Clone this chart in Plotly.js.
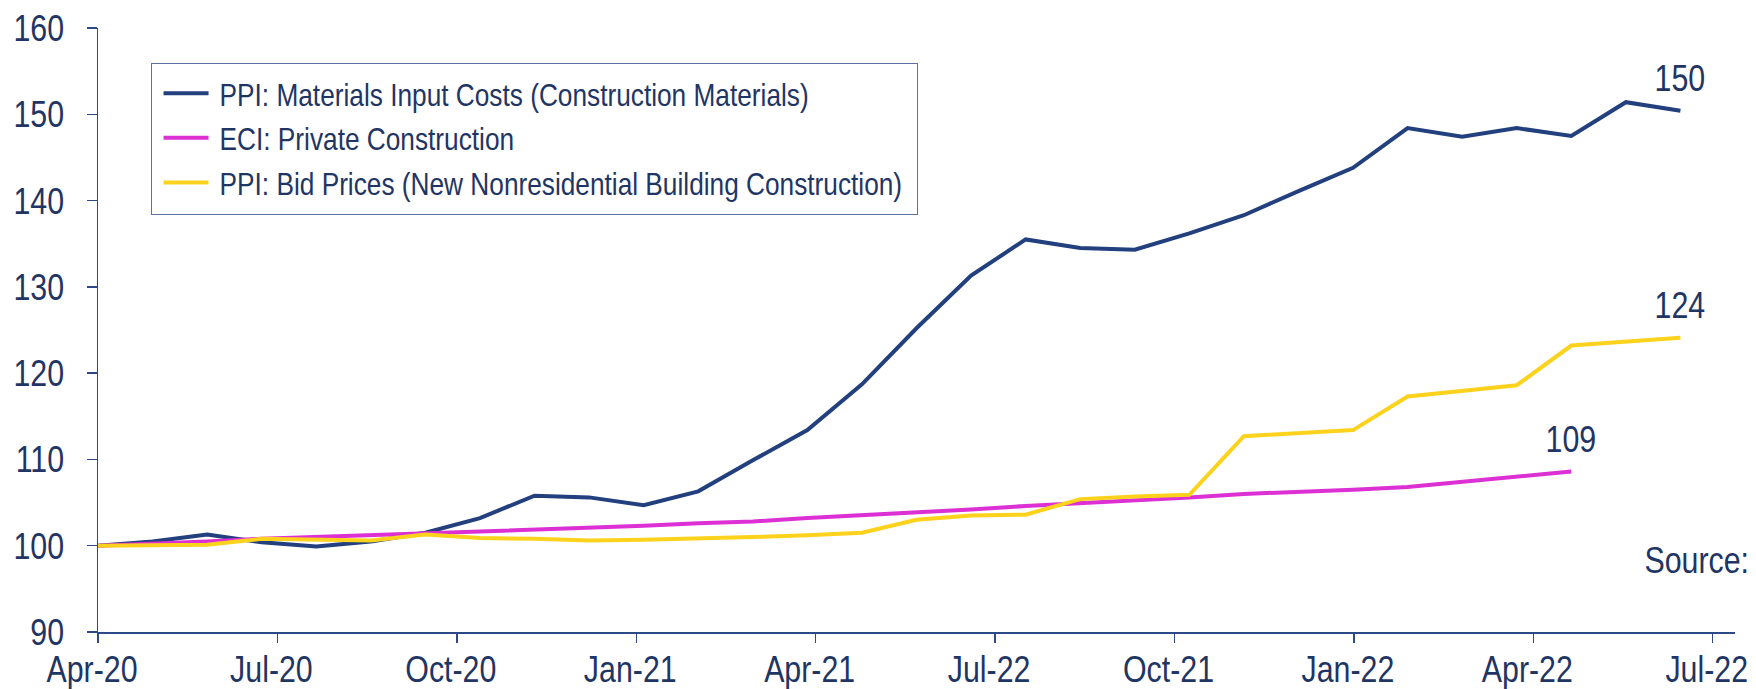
<!DOCTYPE html>
<html>
<head>
<meta charset="utf-8">
<script src="https://cdn.plot.ly/plotly-3.0.1.min.js"></script>
<style>html,body{margin:0;padding:0;background:#fff;}#chart{width:1756px;height:689px;}</style>
</head>
<body>
<div id="chart"></div>
<script>
// Period index of each observation (0 = Apr-20)
const periods = Array.from({length: 30}, (_, i) => i);

// Tick labels exactly as printed on the original axis
const tickLabels = ["Apr-20","Jul-20","Oct-20","Jan-21","Apr-21","Jul-22","Oct-21","Jan-22","Apr-22","Jul-22"];
const tickStep = 3.288; // observations per labelled quarter on the original axis

const seriesNames = [
  "PPI: Materials Input Costs (Construction Materials)",
  "ECI: Private Construction",
  "PPI: Bid Prices (New Nonresidential Building Construction)"
];

const materialsInput = [100.0, 100.5, 101.3, 100.4, 99.9, 100.5, 101.5, 103.2, 105.8, 105.6,
  104.7, 106.3, 109.9, 113.4, 118.7, 125.2, 131.3, 135.5, 134.5, 134.3,
  136.2, 138.3, 141.1, 143.8, 148.4, 147.4, 148.4, 147.5, 151.4, 150.4];

const eciPrivate = [100.0, 100.2, 100.5, 100.8, 101.0, 101.2, 101.4, 101.6, 101.8, 102.0,
  102.3, 102.6, 102.8, 103.2, 103.5, 103.8, 104.2, 104.6, 104.9, 105.2,
  105.6, 106.0, 106.2, 106.5, 106.8, 107.4, 108.0, 108.6];

const bidPrices = [100.0, 100.1, 100.1, 100.8, 100.7, 100.6, 101.3, 100.9, 100.8, 100.6,
  100.7, 100.8, 101.0, 101.2, 101.5, 103.0, 103.5, 103.6, 105.4, 105.7,
  105.9, 112.7, 113.0, 113.4, 117.3, 117.9, 118.6, 123.2, 123.6, 124.1];

const endLabels = ["150", "109", "124"];

const colors = ["#223f7e", "#dc2fd4", "#fdd21c"];
const textColor = "#1f3564";
const axisColor = "#2c4a88";
const fontFamily = '"Liberation Sans", Arial, sans-serif';
const NARROW = 0.82; // Arial Narrow is a horizontally condensed Arial
const TICK_SIZE = 37;
const LEGEND_SIZE = 32;

const seriesData = [materialsInput, eciPrivate, bidPrices];

const traces = seriesData.map((vals, k) => ({
  type: "scatter",
  mode: "lines",
  x: periods.slice(0, vals.length),
  y: vals,
  name: seriesNames[k],
  legendgroup: "g" + k,
  line: {color: colors[k], width: 4},
  hoverinfo: "skip"
}));

const annotations = seriesData.map((vals, k) => ({
  x: vals.length - 1,
  y: vals[vals.length - 1],
  xref: "x", yref: "y",
  text: endLabels[k],
  showarrow: false,
  xanchor: "center",
  yanchor: "middle",
  yshift: 32,
  font: {family: fontFamily, size: TICK_SIZE, color: textColor}
}));

annotations.push({
  x: 0.977, y: 98.3, xref: "paper", yref: "y",
  text: "Source:", showarrow: false, xanchor: "center", yanchor: "middle",
  font: {family: fontFamily, size: TICK_SIZE, color: textColor}
});

const layout = {
  width: 1756,
  height: 689,
  margin: {l: 98, r: 21, t: 27.5, b: 57, pad: 0},
  paper_bgcolor: "#ffffff",
  plot_bgcolor: "#ffffff",
  showlegend: true,
  legend: {
    x: 0.0324, y: 0.9388, xanchor: "left", yanchor: "top",
    bgcolor: "#ffffff",
    bordercolor: "#5b70a3",
    borderwidth: 1,
    tracegroupgap: 5,
    traceorder: "normal",
    itemwidth: 45,
    font: {family: fontFamily, size: LEGEND_SIZE, color: textColor}
  },
  xaxis: {
    range: [0, 30],
    tickvals: tickLabels.map((_, k) => k * tickStep),
    ticktext: tickLabels,
    ticklabeloverflow: "allow",
    showgrid: false,
    zeroline: false,
    showline: true,
    linecolor: axisColor,
    linewidth: 1.5,
    ticks: "outside",
    ticklen: 9,
    tickwidth: 1.5,
    tickcolor: axisColor,
    tickfont: {family: fontFamily, size: TICK_SIZE, color: textColor}
  },
  yaxis: {
    range: [90, 160],
    tick0: 90,
    dtick: 10,
    showgrid: false,
    zeroline: false,
    showline: true,
    linecolor: axisColor,
    linewidth: 1.5,
    ticks: "outside",
    ticklen: 10,
    tickwidth: 1.5,
    tickcolor: axisColor,
    ticklabelstandoff: 15,
    tickfont: {family: fontFamily, size: TICK_SIZE, color: textColor}
  },
  annotations: annotations
};

Plotly.newPlot("chart", traces, layout, {displayModeBar: false, staticPlot: true}).then(gd => {
  // 1) Condense every text horizontally to emulate Arial Narrow
  gd.querySelectorAll("svg text").forEach(t => {
    if (!t.textContent.trim()) return;
    const w = t.getComputedTextLength();
    if (w <= 0) return;
    t.setAttribute("textLength", (w * NARROW).toFixed(2));
    t.setAttribute("lengthAdjust", "spacingAndGlyphs");
  });

  // 2) Pull the x tick labels up close to the axis, as in the original
  const plotBottom = gd._fullLayout._size.t + gd._fullLayout._size.h;
  gd.querySelectorAll(".xtick text").forEach(t => {
    const r = t.getBoundingClientRect();
    const baseline = r.top + 0.905 * TICK_SIZE;
    const targetBaseline = plotBottom + 50.5;
    t.setAttribute("y", (parseFloat(t.getAttribute("y") || 0) + targetBaseline - baseline).toFixed(2));
    t.setAttribute("x", (parseFloat(t.getAttribute("x") || 0) - 6).toFixed(2));
  });

  // 3) Legend: longer line samples, text further right, roomier frame
  const bg = gd.querySelector(".legend rect.bg");
  if (bg) {
    const bgR = bg.getBoundingClientRect();
    const boxLeft = bgR.left;
    const lines = gd.querySelectorAll(".legend .legendlines path");
    const rows = [];
    lines.forEach(p => {
      const d = p.getAttribute("d") || "";
      const m = d.match(/M\s*([-\d.]+)\s*,\s*([-\d.]+)/);
      if (!m) return;
      const a = parseFloat(m[1]), b = parseFloat(m[2]);
      const r = p.getBoundingClientRect();
      const off = r.left - a;
      const start = boxLeft + 12 - off;
      p.setAttribute("d", "M" + start.toFixed(2) + "," + b + "h45");
      rows.push((r.top + r.bottom) / 2);
    });
    let textRight = 0;
    gd.querySelectorAll(".legend .legendtext").forEach(t => {
      const r = t.getBoundingClientRect();
      const x0 = parseFloat(t.getAttribute("x") || 0);
      const shift = boxLeft + 68 - r.left;
      t.setAttribute("x", (x0 + shift).toFixed(2));
      textRight = Math.max(textRight, r.right + shift);
    });
    if (rows.length) {
      const top = Math.min(...rows) - 29.3;
      const bottom = Math.max(...rows) + 31.7;
      const y0 = parseFloat(bg.getAttribute("y") || 0);
      bg.setAttribute("y", (y0 + top - bgR.top).toFixed(2));
      bg.setAttribute("height", (bottom - top).toFixed(2));
    }
    bg.setAttribute("width", (textRight + 15 - boxLeft).toFixed(2));
  }
});
</script>
</body>
</html>
